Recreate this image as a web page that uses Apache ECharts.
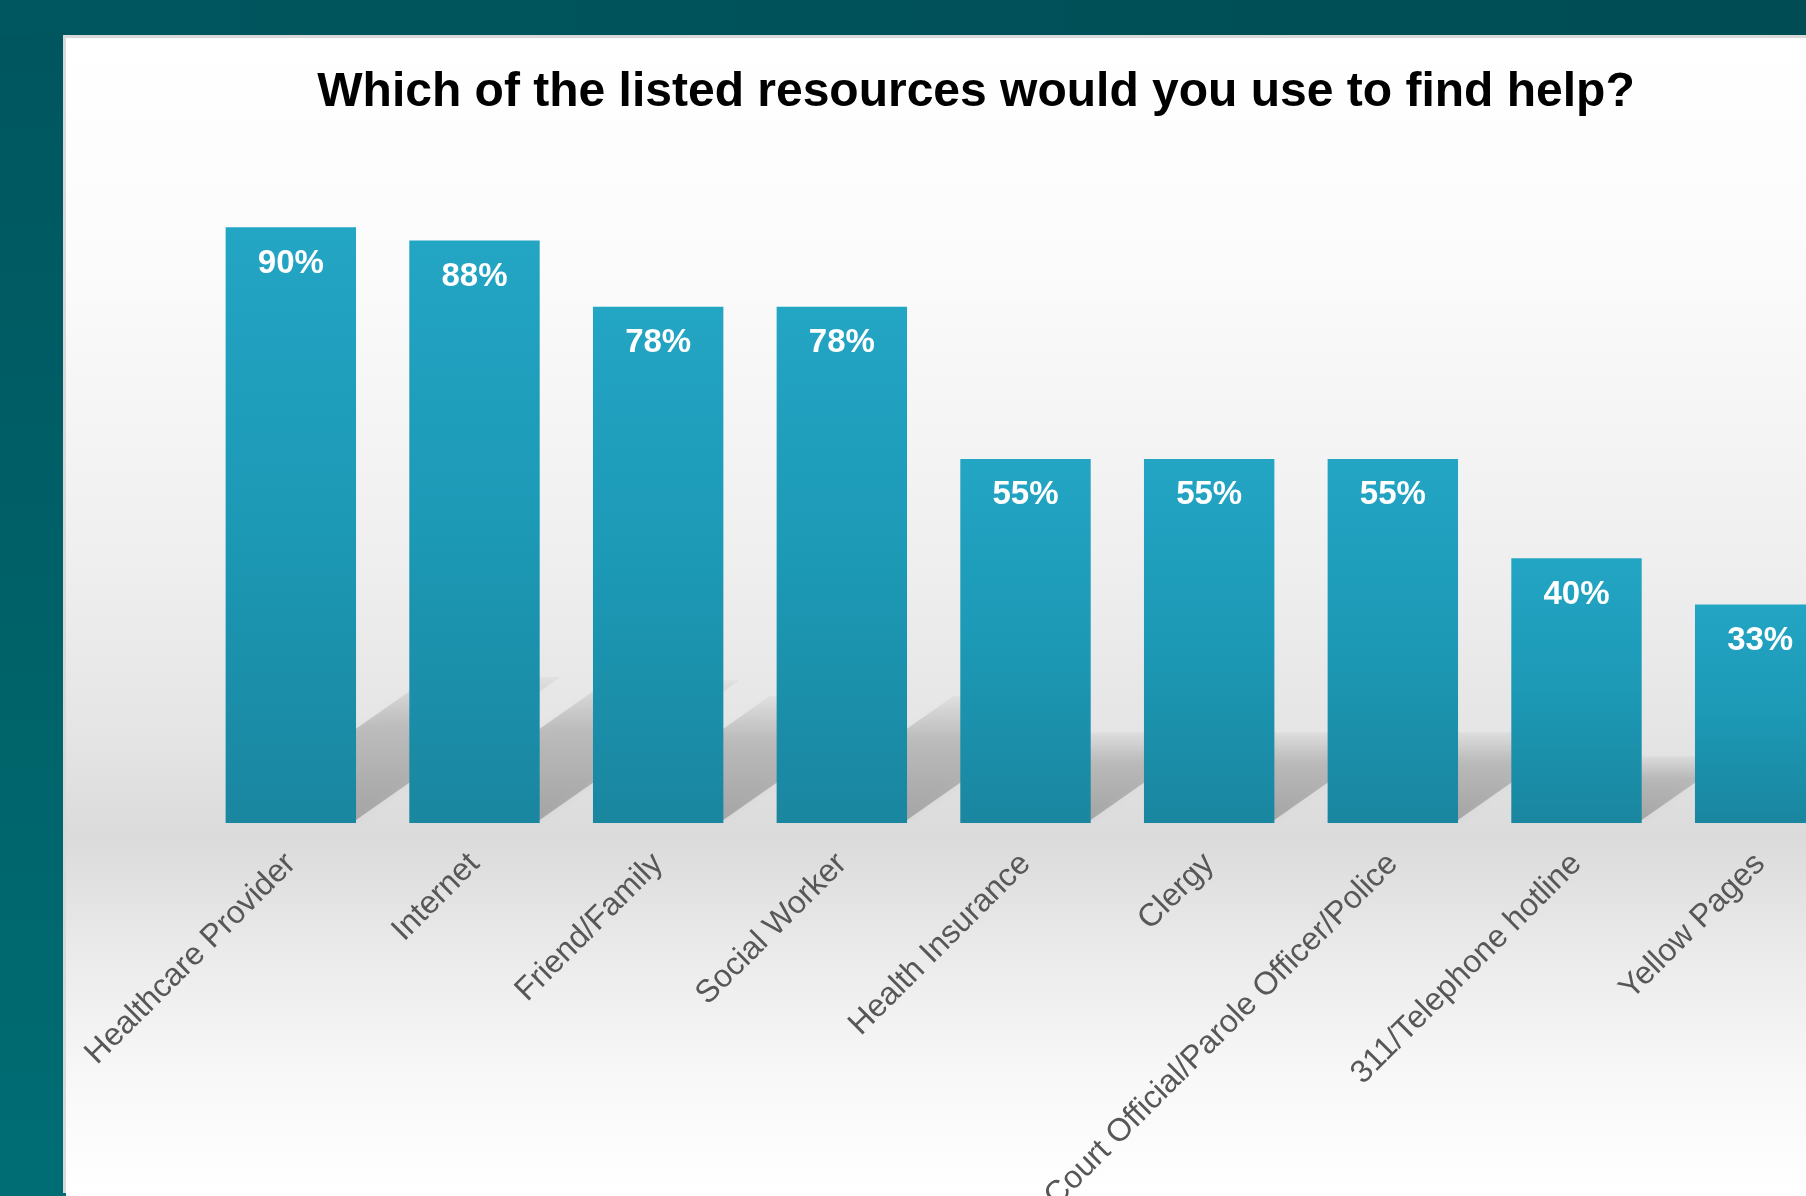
<!DOCTYPE html>
<html>
<head>
<meta charset="utf-8">
<title>Which of the listed resources would you use to find help?</title>
<script src="https://cdn.jsdelivr.net/npm/echarts@6/dist/echarts.min.js"></script>
<style>
    html, body { margin: 0; padding: 0; }
    #frame {
        position: relative;
        width: 1806px;
        height: 1196px;
        overflow: hidden;
        background: linear-gradient(180deg, #00555e 0%, #006168 50%, #006d74 100%);
    }
    #topbar {
        position: absolute; left: 0; top: 0; width: 1806px; height: 36px;
        background: linear-gradient(90deg, #00575f 0%, #004c54 100%);
    }
    /* the panel runs past the right edge, like in the slide */
    #chart {
        position: absolute; left: 66px; top: 38px; width: 1786px; height: 1158px;
        box-shadow: -3px -3px 0 #d9d9d9;
    }
</style>
</head>
<body>
<div id="frame">
    <div id="topbar"></div>
    <div id="chart"></div>
</div>
<script>
    // 数据
    var titleText = 'Which of the listed resources would you use to find help?';
    var categories = ['Healthcare Provider', 'Internet', 'Friend/Family', 'Social Worker',
        'Health Insurance', 'Clergy', 'Court Official/Parole Officer/Police',
        '311/Telephone hotline', 'Yellow Pages'];
    var values = [90, 88, 78, 78, 55, 55, 55, 40, 33];

    var myChart = echarts.init(document.getElementById('chart'));

    var barRatio = 0.71;

    // floor shadow behind each bar
    function renderShadow(params, api) {
        var idx = api.value(0);
        var top = api.coord([idx, api.value(1)]);
        var base = api.coord([idx, 0]);
        var band = api.size([1, 0])[0];
        var half = band * barRatio / 2;
        var h = (base[1] - top[1]) * 0.24;
        var dx = h / 0.7;
        var x0 = base[0] - half, x1 = base[0] + half, y = base[1] - 3;
        return {
            type: 'polygon',
            shape: { points: [[x0, y], [x1, y], [x1 + dx, y - h], [x0 + dx, y - h]] },
            style: {
                fill: new echarts.graphic.LinearGradient(0, 0, 0, 1, [
                    { offset: 0, color: 'rgba(0,0,0,0.03)' },
                    { offset: 0.35, color: 'rgba(0,0,0,0.16)' },
                    { offset: 1, color: 'rgba(0,0,0,0.23)' }
                ]),
                shadowBlur: 10,
                shadowColor: 'rgba(0,0,0,0.15)'
            }
        };
    }

    var option = {
        backgroundColor: new echarts.graphic.LinearGradient(0, 0, 0, 1, [
            { offset: 0, color: '#ffffff' },
            { offset: 0.2, color: '#fbfbfb' },
            { offset: 0.45, color: '#efefef' },
            { offset: 0.6, color: '#e5e5e5' },
            { offset: 0.69, color: '#dbdbdb' },
            { offset: 0.8, color: '#ececec' },
            { offset: 0.9, color: '#f8f8f8' },
            { offset: 1, color: '#ffffff' }
        ]),
        title: {
            text: titleText,
            left: 905,
            top: 26,
            textAlign: 'center',
            textStyle: {
                fontFamily: '"Liberation Sans", Arial, sans-serif',
                fontWeight: 'bold',
                fontSize: 48,
                color: '#000'
            }
        },
        grid: {
            left: 133,
            right: 0,
            top: 123,
            bottom: 373,
            outerBoundsMode: 'none'
        },
        xAxis: {
            type: 'category',
            data: categories,
            axisLine: { show: false },
            axisTick: { show: false },
            axisLabel: {
                interval: 0,
                rotate: 45,
                margin: 36,
                color: '#575757',
                fontSize: 32,
                fontFamily: '"Liberation Sans", Arial, sans-serif'
            }
        },
        yAxis: {
            type: 'value',
            min: 0,
            max: 100,
            show: false
        },
        series: [
            {
                type: 'custom',
                renderItem: renderShadow,
                data: values.map(function (v, i) { return [i, v]; }),
                z: 1,
                silent: true
            },
            {
                type: 'bar',
                data: values,
                barWidth: (barRatio * 100) + '%',
                z: 3,
                itemStyle: {
                    color: new echarts.graphic.LinearGradient(0, 0, 0, 1, [
                        { offset: 0, color: '#23a5c4' },
                        { offset: 0.5, color: '#1c99b5' },
                        { offset: 1, color: '#1a86a0' }
                    ])
                },
                label: {
                    show: true,
                    position: 'insideTop',
                    distance: 20,
                    formatter: '{c}%',
                    color: '#fff',
                    fontWeight: 'bold',
                    fontSize: 33,
                    fontFamily: '"Liberation Sans", Arial, sans-serif'
                }
            }
        ]
    };
    myChart.setOption(option);
</script>
</body>
</html>
